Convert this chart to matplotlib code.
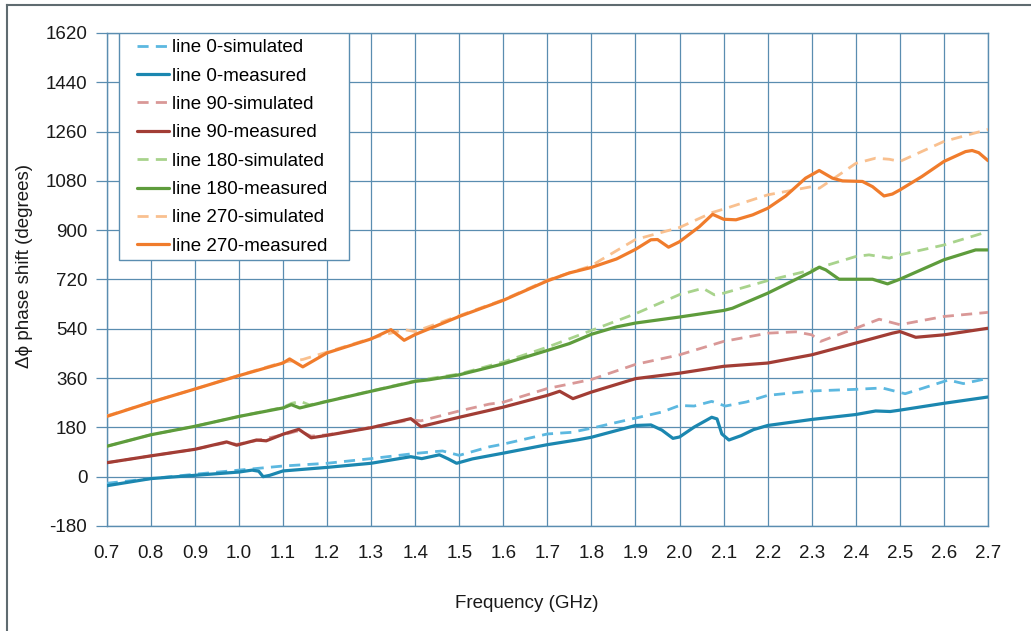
import matplotlib
matplotlib.use("Agg")
import matplotlib.pyplot as plt
from matplotlib.lines import Line2D
from matplotlib.patches import Rectangle

plt.rcParams['font.family'] = ['Liberation Sans', 'DejaVu Sans']

# ---- data (frequency GHz, phase shift degrees) ----
f0m = [0.70, 0.80, 0.90, 1.00, 1.03, 1.045, 1.055, 1.07, 1.10, 1.20, 1.30, 1.39, 1.415, 1.455, 1.475,
       1.494, 1.53, 1.60, 1.70, 1.77, 1.80, 1.90, 1.935, 1.96, 1.985, 2.00, 2.033, 2.073, 2.085, 2.096,
       2.112, 2.14, 2.168, 2.20, 2.30, 2.40, 2.445, 2.478, 2.50, 2.60, 2.70]
p0m = [-33, -7, 5, 17, 24, 20, 0, 5, 21, 34, 49, 73, 66, 80, 65,
       49, 65, 86, 117, 135, 144, 187, 189, 170, 140, 145, 181, 217, 211, 156,
       134, 150, 172, 187, 209, 227, 240, 238, 243, 268, 291]

f0s = [0.70, 0.80, 0.90, 1.00, 1.10, 1.20, 1.30, 1.40, 1.462, 1.50, 1.568, 1.60, 1.70, 1.755, 1.80,
       1.90, 1.96, 2.00, 2.033, 2.073, 2.104, 2.152, 2.20, 2.30, 2.40, 2.46, 2.512, 2.55, 2.61, 2.644, 2.70]
p0s = [-24, -7, 9, 24, 39, 49, 66, 85, 94, 78, 109, 119, 156, 162, 177,
       214, 236, 260, 258, 275, 258, 273, 297, 313, 319, 324, 303, 322, 353, 340, 359]

f90m = [0.70, 0.80, 0.90, 0.972, 0.995, 1.04, 1.062, 1.10, 1.136, 1.164, 1.20, 1.30, 1.39, 1.413, 1.50,
        1.60, 1.70, 1.728, 1.758, 1.80, 1.90, 2.00, 2.10, 2.20, 2.30, 2.40, 2.483, 2.50, 2.536, 2.60, 2.70]
p90m = [51, 76, 100, 127, 115, 134, 131, 155, 173, 142, 151, 179, 212, 183, 217,
        254, 297, 312, 285, 309, 358, 378, 403, 415, 445, 488, 524, 530, 509, 518, 542]

f90s = [0.70, 0.80, 0.90, 0.972, 0.995, 1.04, 1.10, 1.136, 1.164, 1.20, 1.30, 1.39, 1.413, 1.50, 1.568,
        1.60, 1.70, 1.755, 1.80, 1.82, 1.90, 2.00, 2.10, 2.20, 2.264, 2.30, 2.32, 2.40, 2.453, 2.50, 2.60, 2.70]
p90s = [51, 76, 100, 125, 118, 132, 153, 168, 148, 153, 180, 208, 204, 240, 265,
        272, 322, 340, 355, 366, 410, 445, 494, 524, 529, 518, 494, 542, 575, 555, 585, 600]

f180m = [0.70, 0.80, 0.90, 1.00, 1.10, 1.119, 1.138, 1.20, 1.30, 1.40, 1.432, 1.50, 1.60, 1.70, 1.75,
         1.80, 1.857, 1.90, 2.00, 2.10, 2.12, 2.20, 2.30, 2.317, 2.332, 2.362, 2.40, 2.438, 2.472, 2.50,
         2.60, 2.672, 2.70]
p180m = [111, 153, 184, 220, 251, 263, 251, 275, 312, 348, 354, 372, 412, 461, 486,
         520, 547, 561, 583, 607, 615, 670, 749, 765, 755, 721, 721, 721, 704, 721,
         792, 828, 828]

f180s = [0.70, 0.80, 0.90, 1.00, 1.10, 1.12, 1.14, 1.16, 1.20, 1.30, 1.40, 1.50, 1.60, 1.70, 1.80,
         1.90, 2.00, 2.053, 2.079, 2.10, 2.20, 2.30, 2.40, 2.43, 2.476, 2.50, 2.60, 2.70]
p180s = [111, 153, 184, 220, 253, 268, 275, 262, 276, 313, 350, 375, 419, 473, 534,
         595, 665, 688, 664, 670, 716, 755, 804, 810, 798, 810, 846, 895]

f270m = [0.70, 0.80, 0.90, 1.00, 1.10, 1.115, 1.145, 1.20, 1.30, 1.345, 1.375, 1.40, 1.50, 1.60, 1.70,
         1.75, 1.80, 1.857, 1.90, 1.935, 1.95, 1.975, 2.00, 2.045, 2.075, 2.10, 2.128, 2.166, 2.20, 2.241,
         2.286, 2.317, 2.347, 2.37, 2.415, 2.438, 2.464, 2.483, 2.50, 2.55, 2.60, 2.649, 2.664, 2.679, 2.70]
p270m = [220, 272, 320, 369, 415, 430, 401, 452, 503, 537, 498, 519, 585, 644, 715,
         744, 764, 795, 830, 865, 866, 838, 858, 913, 958, 940, 938, 956, 980, 1025,
         1090, 1118, 1090, 1080, 1078, 1059, 1025, 1032, 1047, 1096, 1151, 1187, 1191, 1183, 1154]

f270s = [0.70, 0.80, 0.90, 1.00, 1.10, 1.145, 1.20, 1.30, 1.375, 1.40, 1.50, 1.60, 1.70, 1.80, 1.82,
         1.90, 2.00, 2.075, 2.10, 2.20, 2.30, 2.317, 2.362, 2.40, 2.445, 2.476, 2.50, 2.60, 2.70]
p270s = [222, 272, 320, 370, 418, 428, 455, 505, 537, 530, 588, 646, 718, 770, 790,
         866, 910, 965, 977, 1029, 1059, 1053, 1102, 1144, 1163, 1159, 1151, 1224, 1268]

labels = ["line 0-simulated", "line 0-measured", "line 90-simulated", "line 90-measured",
          "line 180-simulated", "line 180-measured", "line 270-simulated", "line 270-measured"]
colors = ["#5cb8e0", "#1b87b0", "#d99897", "#a23d35", "#a8d38c", "#5e9c3c", "#f9c08f", "#f07c2c"]

x_ticks = [0.7 + 0.1 * i for i in range(21)]
y_ticks = list(range(-180, 1621, 180))

series = [(f0s, p0s), (f0m, p0m), (f90s, p90s), (f90m, p90m),
          (f180s, p180s), (f180m, p180m), (f270s, p270s), (f270m, p270m)]

# ---- figure ----
W, H = 1031, 631
AX_L, AX_R, AX_T, AX_B = 106.7, 988.0, 33.0, 526.0
fig = plt.figure(figsize=(W / 100, H / 100), dpi=100)
ax = fig.add_axes([AX_L / W, 1 - AX_B / H, (AX_R - AX_L) / W, (AX_B - AX_T) / H])

grid_c = "#5a8db0"
for x in x_ticks:
    ax.axvline(x, color=grid_c, lw=0.9, zorder=1)
for y in y_ticks:
    ax.axhline(y, color=grid_c, lw=0.9, zorder=1)

handles = []
for i, ((fx, py), lab, c) in enumerate(zip(series, labels, colors)):
    sim = (i % 2 == 0)
    if sim:
        ln, = ax.plot(fx, py, color=c, lw=2.0, ls=(0, (4, 2.6)), label=lab, zorder=3,
                      solid_joinstyle='round')
    else:
        ln, = ax.plot(fx, py, color=c, lw=2.3, ls='-', label=lab, zorder=4,
                      solid_joinstyle='round', solid_capstyle='round')
    handles.append(ln)

ax.set_xlim(0.7, 2.7)
ax.set_ylim(-180, 1620)
ax.set_xticks(x_ticks)
ax.set_xticklabels([f"{v:.1f}" for v in x_ticks])
ax.set_yticks(y_ticks)
ax.set_yticklabels([str(v) for v in y_ticks])
ax.tick_params(axis='y', direction='out', length=8, width=0.9, color=grid_c,
               labelsize=13.5, pad=6, labelcolor='#1a1a1a')
ax.tick_params(axis='x', length=0, labelsize=13.5, pad=14, labelcolor='#1a1a1a')
for s in ax.spines.values():
    s.set_color(grid_c)
    s.set_linewidth(1.0)

# legend box (drawn as a rectangle in pixel-derived axes fractions)
aw, ah = AX_R - AX_L, AX_B - AX_T
box_l, box_r, box_t, box_b = 119.0, 348.5, 33.0, 260.0
ax.add_patch(Rectangle(((box_l - AX_L) / aw, (AX_B - box_b) / ah),
                       (box_r - box_l) / aw, (box_b - box_t) / ah,
                       transform=ax.transAxes, facecolor='white', edgecolor=grid_c,
                       lw=1.0, zorder=9))
leg = ax.legend(handles=handles, loc='upper left',
                bbox_to_anchor=((131.0 - AX_L) / aw, 1.0 - 0.5 / ah),
                fontsize=13.5, frameon=False, borderpad=0.3,
                labelspacing=0.6, handlelength=1.7, handletextpad=0.2,
                borderaxespad=0.0)
leg.set_zorder(10)

fig.text(527 / W, 1 - 603 / H, "Frequency (GHz)", ha='center', va='center',
         fontsize=13.5, color='#1a1a1a')
fig.text(25 / W, 1 - 266 / H, "Δϕ phase shift (degrees)", ha='center', va='center',
         rotation=90, fontsize=13.5, color='#1a1a1a')

# outer frame (top and left edges visible)
fig.add_artist(Line2D([6.5 / W, 1.0], [1 - 4.5 / H, 1 - 4.5 / H], color='#5f6b70', lw=1.5,
                      transform=fig.transFigure))
fig.add_artist(Line2D([6.5 / W, 6.5 / W], [0.0, 1 - 4.5 / H], color='#5f6b70', lw=1.5,
                      transform=fig.transFigure))

fig.savefig("out.png", dpi=100)
